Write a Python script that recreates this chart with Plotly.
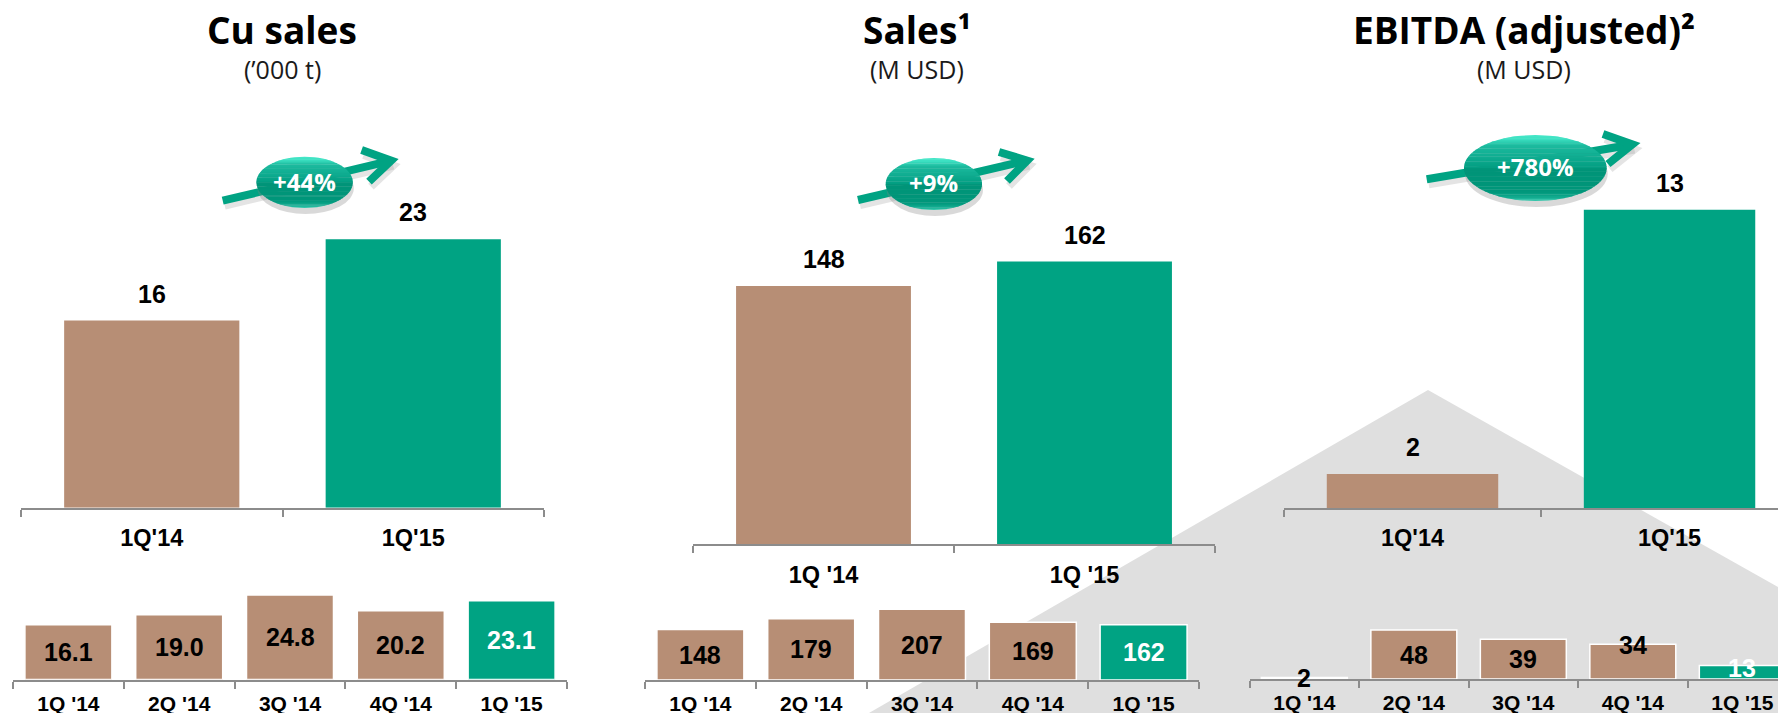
import math
import plotly.graph_objects as go

W, H = 1778, 713

# ---- data ----
big_cats_a = ["1Q'14", "1Q'15"]
big_cats_b = ["1Q '14", "1Q '15"]
small_cats = ["1Q '14", "2Q '14", "3Q '14", "4Q '14", "1Q '15"]

cu_big = [16.1, 23.1]
cu_big_labels = ["16", "23"]
sales_big = [148, 162]
sales_big_labels = ["148", "162"]
ebitda_big = [1.5, 13.2]
ebitda_big_labels = ["2", "13"]

cu_small = [16.1, 19.0, 24.8, 20.2, 23.1]
cu_small_labels = ["16.1", "19.0", "24.8", "20.2", "23.1"]
sales_small = [148, 179, 207, 169, 162]
sales_small_labels = ["148", "179", "207", "169", "162"]
ebitda_small = [1.5, 48, 39, 34, 13.2]
ebitda_small_labels = ["2", "48", "39", "34", "13"]

BROWN = "#B78E75"
GREEN = "#00A383"
GRAY = "#8C8C8C"
BG = "#DFDFDF"
AR = "Liberation Sans"
OS = "Open Sans"


def px(x):
    return x / W


def py(y):
    return 1 - y / H


fig = go.Figure()
shapes = []
annos = []

# background shape
shapes.append(dict(type="path", layer="below", xref="paper", yref="paper",
                   path="M %f %f L %f %f L %f %f L %f %f Z" % (px(869), py(713), px(1428), py(390), px(1778), py(587), px(1778), py(713)),
                   fillcolor=BG, line_width=0))

panels = [
    # axis id, x0, x1, baseline, top, px/unit, xrange, cats, vals, labels, barwidth, big?, yshifts
    ("", 21, 544, 507.7, 120, 11.62, [-0.5, 1.5], big_cats_a, cu_big, cu_big_labels, 0.67, True, None),
    ("2", 693, 1215, 544.3, 120, 1.745, [-0.5, 1.5], big_cats_b, sales_big, sales_big_labels, 0.67, True, None),
    ("3", 1284, 1778, 508, 120, 22.6, [-0.5, 1.422], big_cats_a, ebitda_big, ebitda_big_labels, 0.667, True, None),
    ("4", 13, 567, 679.5, 570, 3.407, [-0.5, 4.5], small_cats, cu_small, cu_small_labels, 0.785, False, [0, 0, 0, 0, 0]),
    ("5", 645, 1199, 680, 570, 0.3415, [-0.5, 4.5], small_cats, sales_small, sales_small_labels, 0.785, False, [0, 0, 0, 0, 0]),
    ("6", 1249.6, 1778, 679, 570, 1.02, [-0.5, 4.326], small_cats, ebitda_small, ebitda_small_labels, 0.785, False, [0, 0, 0, 17, 4]),
]

layout_axes = {}
for aid, x0, x1, base, top, ppu, xr, cats, vals, labels, bw, big, shifts in panels:
    colors = [BROWN] * (len(vals) - 1) + [GREEN]
    fig.add_trace(go.Bar(
        x=cats, y=vals, xaxis="x" + aid, yaxis="y" + aid, width=bw,
        marker=dict(color=colors, line=dict(color="white", width=0 if big else 1.5)),
        showlegend=False, hoverinfo="skip", cliponaxis=True,
    ))
    layout_axes["xaxis" + aid] = dict(
        domain=[px(x0), px(x1)], range=xr, type="category", anchor="y" + aid,
        showline=True, linecolor=GRAY, linewidth=2, ticks="outside", ticklen=7, tickwidth=2,
        tickcolor=GRAY, tickson="boundaries", showgrid=False, zeroline=False,
        categoryorder="array", categoryarray=cats,
        tickfont=dict(family=AR, size=23.5 if big else 21, color="#000000", weight="bold"),
        ticklabelstandoff=8 if big else 4,
    )
    layout_axes["yaxis" + aid] = dict(
        domain=[py(base), py(top)], range=[0, (base - top) / ppu], anchor="x" + aid,
        visible=False, fixedrange=True,
    )
    for i, (c, v, t) in enumerate(zip(cats, vals, labels)):
        if big:
            annos.append(dict(x=c, y=v, xref="x" + aid, yref="y" + aid, text=t, showarrow=False,
                              xanchor="center", yanchor="middle", yshift=27,
                              font=dict(family=AR, size=25, color="black", weight="bold")))
        else:
            green = i == len(vals) - 1
            annos.append(dict(x=c, y=v / 2, xref="x" + aid, yref="y" + aid, text=t, showarrow=False,
                              xanchor="center", yanchor="middle", yshift=shifts[i],
                              font=dict(family=AR, size=25, color="white" if green else "black", weight="bold")))


def title(cx, main, sub):
    annos.append(dict(x=px(cx), y=py(30), xref="paper", yref="paper", text=main, showarrow=False,
                      xanchor="center", yanchor="middle", font=dict(family=OS, size=37, color="black", weight="bold")))
    annos.append(dict(x=px(cx), y=py(69), xref="paper", yref="paper", text=sub, showarrow=False,
                      xanchor="center", yanchor="middle", font=dict(family=OS, size=25, color="#1a1a1a")))


title(282, "Cu sales", "(’000 t)")
title(917, "Sales¹", "(M USD)")
title(1524, "EBITDA (adjusted)²", "(M USD)")


def line_path(points, color, width, dx=0, dy=0):
    d = "M " + " L ".join("%f %f" % (px(a + dx), py(b + dy)) for a, b in points)
    shapes.append(dict(type="path", xref="paper", yref="paper", path=d, layer="above",
                       line=dict(color=color, width=width)))


def ell(x0, x1, y0, y1, color):
    shapes.append(dict(type="circle", xref="paper", yref="paper", layer="above",
                       x0=px(x0), x1=px(x1), y0=py(y1), y1=py(y0), fillcolor=color, line_width=0))


# glossy fade, top (0) to bottom (1) of the badge
GLOSS = [(0.0, (70, 232, 200)), (0.07, (58, 222, 192)), (0.16, (28, 186, 158)), (0.48, (4, 160, 132)),
         (0.52, (0, 148, 120)), (0.86, (0, 150, 122)), (0.95, (18, 172, 144)), (1.0, (60, 205, 178))]


def gloss(t):
    for (a, ca), (b, cb) in zip(GLOSS, GLOSS[1:]):
        if t <= b:
            f = (t - a) / (b - a)
            return "rgb(%d,%d,%d)" % tuple(round(ca[i] + (cb[i] - ca[i]) * f) for i in range(3))
    return "rgb(60,205,178)"


def ellipse_bands(x0, x1, y0, y1, n=40):
    cx, cy, rx, ry = (x0 + x1) / 2, (y0 + y1) / 2, (x1 - x0) / 2, (y1 - y0) / 2

    def half(y):
        u = max(-1.0, min(1.0, (y - cy) / ry))
        return rx * math.sqrt(1 - u * u)

    for k in range(n):
        a = y0 + (y1 - y0) * k / n
        b = y0 + (y1 - y0) * (k + 1) / n + 0.4
        b = min(b, y1)
        ys = [a + (b - a) * j / 3 for j in range(4)]
        left = [(cx - half(y), y) for y in ys]
        right = [(cx + half(y), y) for y in reversed(ys)]
        d = "M " + " L ".join("%f %f" % (px(p), py(q)) for p, q in left + right) + " Z"
        shapes.append(dict(type="path", xref="paper", yref="paper", layer="above", path=d,
                           fillcolor=gloss((k + 0.5) / n), line_width=0))


def badge(tail, tip, h1, h2, ex0, ex1, ey0, ey1, text):
    shad = "rgba(130,130,130,0.22)"
    # centre of the arrow's point lies behind the mitred outer tip
    L = math.hypot(tip[0] - tail[0], tip[1] - tail[1])
    c = (tip[0] - (tip[0] - tail[0]) / L * 7, tip[1] - (tip[1] - tail[1]) / L * 7)
    line_path([tail, c], shad, 8, 2, 5)
    line_path([h1, c, h2], shad, 8, 2, 5)
    line_path([tail, c], GREEN, 8)
    line_path([h1, c, h2], GREEN, 8)
    ell(ex0 + 1, ex1 + 1, ey0 + 6, ey1 + 6, "rgba(130,130,130,0.30)")
    ellipse_bands(ex0, ex1, ey0, ey1)
    annos.append(dict(x=px((ex0 + ex1) / 2), y=py((ey0 + ey1) / 2 - 1), xref="paper", yref="paper", text=text,
                      showarrow=False, xanchor="center", yanchor="middle",
                      font=dict(family=OS, size=24, color="white", weight="bold")))


badge((222.7, 200.7), (398, 159), (361.6, 150), (369, 181.7), 256.4, 352.8, 156.7, 208, "+44%")
badge((858, 200), (1034, 159), (999, 152), (1007, 181), 885.7, 982, 158, 210, "+9%")
badge((1426.7, 179.3), (1639.3, 143.3), (1603, 134), (1608, 164), 1464, 1606.7, 135, 201, "+780%")

fig.update_layout(
    width=W, height=H, margin=dict(l=0, r=0, t=0, b=0, autoexpand=False),
    paper_bgcolor="white", plot_bgcolor="rgba(0,0,0,0)",
    shapes=shapes, annotations=annos, bargap=0.2, showlegend=False,
    **layout_axes,
)

fig.write_html("out.html", config={"displayModeBar": False, "staticPlot": True},
               post_script="document.body.style.margin='0';")
